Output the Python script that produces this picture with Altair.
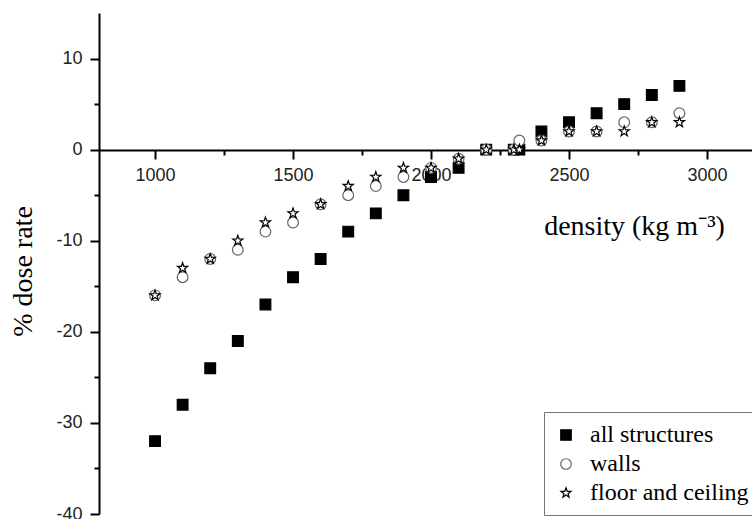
import altair as alt
import pandas as pd

density = [1000, 1100, 1200, 1300, 1400, 1500, 1600, 1700, 1800, 1900,
           2000, 2100, 2200, 2300, 2320, 2400, 2500, 2600, 2700, 2800, 2900]
all_structures = [-32, -28, -24, -21, -17, -14, -12, -9, -7, -5,
                  -3, -2, 0, 0, 0, 2, 3, 4, 5, 6, 7]
walls = [-16, -14, -12, -11, -9, -8, -6, -5, -4, -3,
         -2, -1, 0, 0, 1, 1, 2, 2, 3, 3, 4]
floor_ceiling = [-16, -13, -12, -10, -8, -7, -6, -4, -3, -2,
                 -2, -1, 0, 0, 0, 1, 2, 2, 2, 3, 3]

series_names = ["all structures", "walls", "floor and ceiling"]
x_major = [1000, 1500, 2000, 2500, 3000]
x_minor = [1250, 1750, 2250, 2750]
y_major = [-40, -30, -20, -10, 0, 10]
y_minor = [-35, -25, -15, -5, 5]

rows = []
for name, vals in zip(series_names, [all_structures, walls, floor_ceiling]):
    for d, v in zip(density, vals):
        rows.append({"density": d, "value": v, "series": name})
df = pd.DataFrame(rows)

STAR = ("M0,-1L0.235,-0.324L0.951,-0.309L0.380,0.124L0.588,0.809L0,0.4"
        "L-0.588,0.809L-0.380,0.124L-0.951,-0.309L-0.235,-0.324Z")

W, H = 653, 501
xdom = [797, 3163]
ydom = [-40, 15]
y0_from_bottom = H * (0 - ydom[0]) / (ydom[1] - ydom[0])
xoff = -round(y0_from_bottom)

xscale = alt.Scale(domain=xdom, nice=False, zero=False)
yscale = alt.Scale(domain=ydom, nice=False, zero=False)

SERIF = "Liberation Serif"

points = alt.Chart(df).mark_point(filled=True, strokeWidth=1.2, opacity=1, size=115).encode(
    x=alt.X("density:Q", scale=xscale,
            axis=alt.Axis(orient="bottom", values=x_major, format="d", offset=xoff,
                          tickSize=9,
                          title="density (kg m⁻³)", titleX=535, titleY=84,
                          titleAlign="center", titleBaseline="alphabetic",
                          titleFont=SERIF, titleFontSize=28,
                          titleFontWeight="normal", titleColor="black",
                          labelPadding=7)),
    y=alt.Y("value:Q", scale=yscale,
            axis=alt.Axis(orient="left", values=y_major, tickSize=9,
                          labelExpr="'' + datum.value",
                          title="% dose rate",
                          titleX=-76, titleY=258, titleAngle=270,
                          titleAlign="center", titleBaseline="middle",
                          titleFont=SERIF, titleFontSize=28,
                          titleFontWeight="normal", titleColor="black",
                          labelPadding=8)),
    shape=alt.Shape("series:N", title=" ",
                    scale=alt.Scale(domain=series_names,
                                    range=["square", "circle", STAR])),
    fill=alt.Fill("series:N", title=" ",
                  scale=alt.Scale(domain=series_names,
                                  range=["black", "white", "white"])),
    stroke=alt.Stroke("series:N", title=" ",
                      scale=alt.Scale(domain=series_names,
                                      range=["black", "#666666", "black"])),
)

minor = alt.Chart(df).mark_point(opacity=0).encode(
    x=alt.X("density:Q", scale=xscale,
            axis=alt.Axis(orient="bottom", values=x_minor, labels=False,
                          domain=False, tickSize=5, offset=xoff, title=None)),
    y=alt.Y("value:Q", scale=yscale,
            axis=alt.Axis(orient="left", values=y_minor, labels=False,
                          domain=False, tickSize=5, title=None)),
)

chart = alt.layer(minor, points).resolve_axis(
    x="independent", y="independent"
).properties(
    width=W, height=H,
    autosize=alt.AutoSizeParams(type="none"),
    padding={"left": 99, "top": 13, "right": 0, "bottom": 5},
).configure_view(stroke=None).configure_axis(
    grid=False, domainColor="black", domainWidth=2, tickColor="black", tickWidth=2,
    labelFont="Liberation Sans", labelFontSize=18, labelColor="#222222",
).configure_legend(
    orient="none", legendX=445, legendY=399,
    strokeColor="#777777", padding=10, fillColor="white",
    titleFontSize=1, titlePadding=0, titleOpacity=0,
    labelFont=SERIF, labelFontSize=24, labelColor="black",
    symbolSize=110, rowPadding=5, labelOffset=12, symbolStrokeWidth=1.2,
    labelLimit=400, disable=False,
)

chart.save("out.html", embed_options={"renderer": "svg", "actions": False})
